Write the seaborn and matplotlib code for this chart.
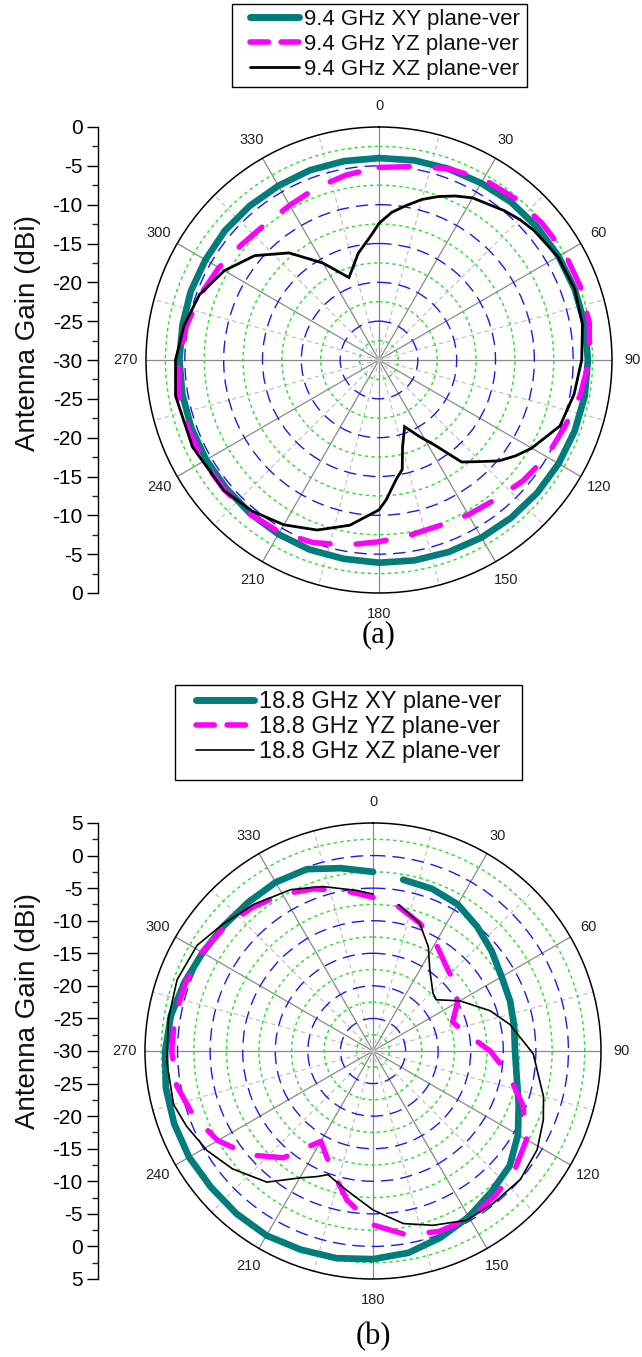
import numpy as np
import pandas as pd
import matplotlib
matplotlib.use("Agg")
import matplotlib.pyplot as plt
from matplotlib.lines import Line2D
from matplotlib.patches import Rectangle
from matplotlib.ticker import FixedLocator, FuncFormatter
import seaborn as sns

# ---------------- 9.4 GHz radiation patterns (gain in dBi vs angle in degrees) ----------------
ang_a = [0, 10, 20, 30, 40, 50, 60, 70, 80, 90, 100, 110, 120, 130, 140, 150, 160, 170, 180,
         190, 200, 210, 220, 230, 240, 250, 260, 270, 280, 290, 300, 310, 320, 330, 340, 350, 360]
xy_a = [-4.0, -3.9, -3.8, -3.7, -3.5, -3.4, -3.3, -3.2, -3.1, -3.1, -3.1, -3.2, -3.3, -3.4, -3.5,
        -3.6, -3.7, -3.8, -3.9, -4.0, -4.0, -4.1, -4.2, -4.3, -4.3, -4.3, -4.3, -4.3, -4.3, -4.2,
        -4.2, -4.1, -4.1, -4.1, -4.0, -4.0, -4.0]
yz_a = [-5.2, -4.7, -3.8, -3.1, -2.8, -2.6, -2.4, -2.4, -2.5, -2.9, -3.7, -4.6, -5.1, -5.8, -6.6,
        -7.0, -7.3, -7.1, -6.6, -5.8, -5.0, -4.4, -4.1, -4.0, -3.9, -3.9, -3.8, -4.2, -4.8, -5.5,
        -6.2, -6.9, -7.2, -7.0, -6.4, -5.8, -5.2]
ang_a_xz = [0, 5, 10, 15, 20, 25, 30, 40, 45, 50, 60, 70, 80, 90, 100, 110, 120, 125, 130, 135,
            141, 147, 152, 159, 165, 168, 172, 177, 180, 185, 190, 200, 210, 220, 230, 245, 260,
            270, 280, 290, 300, 310, 320, 330, 340, 349, 357, 360]
xz_a = [-12.4, -10.9, -9.8, -8.6, -7.6, -6.7, -5.9, -4.9, -4.4, -4.0, -3.4, -3.2, -3.4, -3.9,
        -4.5, -5.2, -7.3, -8.5, -9.8, -11.5, -13.1, -17.0, -18.8, -20.8, -18.3, -15.6, -14.4,
        -12.0, -10.7, -9.7, -8.4, -6.7, -5.5, -4.6, -3.9, -3.5, -3.4, -3.8, -4.5, -5.4, -7.0,
        -9.1, -12.0, -15.6, -18.7, -16.0, -13.7, -12.4]

# ---------------- 18.8 GHz radiation patterns ----------------
ang_b = [10, 20, 30, 40, 50, 60, 70, 80, 90, 100, 110, 120, 130, 140, 150, 160, 170, 180,
         190, 200, 210, 220, 230, 240, 250, 260, 270, 280, 290, 300, 310, 320, 330, 340, 350, 360]
xy_b = [-3.3, -3.5, -4.0, -5.1, -6.2, -7.2, -7.6, -8.0, -8.2, -7.6, -6.2, -4.3, -2.6, -1.75,
        -0.6, 0.45, 1.45, 1.95, 2.3, 2.45, 2.7, 2.6, 2.5, 2.6, 2.5, 2.3, 1.9, 1.5, 0.8, 0.2,
        -0.1, -0.2, -0.1, -0.3, -1.5, -2.5]
yz_b = [-7.5, -9.1, -10.8, -12.7, -13.7, -15.0, -17.0, -15.3, -12.0, -8.8, -5.5, -2.8, -1.6,
        -0.9, -0.3, -0.5, -1.4, -3.3, -6.8, -11.0, -14.0, -8.6, -5.2, -2.5, -0.7, 0.6, 0.9, 0.9,
        0.6, 0.3, -0.3, -1.2, -2.2, -3.5, -5.0, -6.4]
ang_b_xz = [10, 20, 28, 35, 46, 51, 60, 71, 79, 91, 105, 112, 121, 131, 142, 151, 161, 170, 180,
            191, 200, 204, 210, 219, 230, 239, 248, 255, 267, 279, 290, 301, 310, 321, 333, 343,
            354, 360]
xz_b = [-7.2, -9.1, -11.9, -14.8, -17.2, -17.5, -14.6, -11.0, -8.6, -5.4, -2.9, -1.8, -0.6, 0.0,
        -0.2, -0.3, -1.7, -3.1, -5.6, -8.3, -9.8, -8.9, -7.5, -4.1, -1.85, -0.3, 0.86, 1.7, 1.7,
        1.8, 2.0, 1.5, 0.2, -1.0, -2.2, -3.6, -5.2, -5.9]

theta_ticks = list(range(0, 360, 30))
theta_labels = [str(a) for a in theta_ticks]

labels_a = ["9.4 GHz XY plane-ver", "9.4 GHz YZ plane-ver", "9.4 GHz XZ plane-ver"]
labels_b = ["18.8 GHz XY plane-ver", "18.8 GHz YZ plane-ver", "18.8 GHz XZ plane-ver"]

TEAL = "#007c7a"
MAGENTA = "#ff00ff"
BLACK = "#000000"

sns.set_theme(style="white")
plt.rcParams["font.family"] = ["Liberation Sans", "DejaVu Sans"]

W, H = 642, 1357
fig = plt.figure(figsize=(W / 100, H / 100), dpi=100)
fig.patch.set_facecolor("white")


def box(x0, y0, w, h):
    return [x0 / W, 1 - (y0 + h) / H, w / W, h / H]


def frame(angles, gains):
    return pd.DataFrame({"theta": np.deg2rad(angles), "gain": gains})


def panel(cx, cy, R, rmax, series, black_lw, leg_labels, leg_box, leg_anchor, leg_fs,
          leg_hl, leg_ls, ylabel_y, tag, tag_y):
    rmin = -30
    ax = fig.add_axes(box(cx - R, cy - R, 2 * R, 2 * R), projection="polar")
    ax.set_theta_zero_location("N")
    ax.set_theta_direction(-1)
    ax.set_ylim(rmin, rmax)
    major_r = list(np.arange(-25, rmax - 0.1, 5))
    minor_r = list(np.arange(-27.5, rmax, 5))
    ax.set_yticks(major_r)
    ax.set_yticklabels([])
    ax.yaxis.set_minor_locator(FixedLocator(minor_r))
    ax.set_xticks(np.deg2rad(theta_ticks), labels=theta_labels)
    ax.xaxis.set_minor_locator(FixedLocator(np.deg2rad(np.arange(15, 360, 30))))
    ax.set_axisbelow(True)
    ax.grid(True, which="major", axis="y", color="#1c1ce0", linestyle=(0, (9, 5)), linewidth=1.0)
    ax.grid(True, which="minor", axis="y", color="#33e033", linestyle=(0, (2.2, 2.2)), linewidth=1.1)
    ax.grid(True, which="major", axis="x", color="#8a8a8a", linestyle="-", linewidth=0.9)
    ax.grid(True, which="minor", axis="x", color="#bcbcbc", linestyle=(0, (4, 3)), linewidth=0.8)
    ax.tick_params(axis="x", which="major", labelsize=10.5, pad=4, colors="#222222",
                   length=4, width=0.8, direction="out")
    ax.tick_params(axis="y", which="both", length=0)
    ax.spines["polar"].set_linewidth(1.1)
    ax.spines["polar"].set_color("black")
    ax.set_facecolor("white")

    (xy_ang, xy_val), (yz_ang, yz_val), (xz_ang, xz_val) = series
    sns.lineplot(data=frame(xy_ang, xy_val), x="theta", y="gain", ax=ax, sort=False,
                 estimator=None, color=TEAL, linewidth=4.8, solid_capstyle="round",
                 solid_joinstyle="round", legend=False)
    sns.lineplot(data=frame(yz_ang, yz_val), x="theta", y="gain", ax=ax, sort=False,
                 estimator=None, color=MAGENTA, linewidth=3.9, linestyle=(0, (5.6, 4.8)),
                 dash_capstyle="round", legend=False)
    sns.lineplot(data=frame(xz_ang, xz_val), x="theta", y="gain", ax=ax, sort=False,
                 estimator=None, color=BLACK, linewidth=black_lw, solid_joinstyle="miter",
                 legend=False)
    ax.set_xlabel("")
    ax.set_ylabel("")

    # Origin-style gain scale to the left of the polar plot
    span = rmax - rmin
    axl = fig.add_axes(box(98, cy - R, 1, 2 * R))
    axl.set_ylim(-span, span)
    axl.set_xlim(0, 1)
    axl.set_yticks(np.arange(-span, span + 0.1, 5))
    axl.yaxis.set_minor_locator(FixedLocator(np.arange(-span + 2.5, span, 5)))
    axl.yaxis.set_major_formatter(FuncFormatter(lambda v, p: f"{abs(v) + rmin:g}"))
    axl.set_xticks([])
    for s in ("top", "right", "bottom"):
        axl.spines[s].set_visible(False)
    axl.spines["left"].set_color("black")
    axl.spines["left"].set_linewidth(1.0)
    axl.tick_params(axis="y", which="major", direction="out", length=8, width=1.0,
                    labelsize=15, pad=3, colors="black", left=True)
    axl.tick_params(axis="y", which="minor", direction="out", length=4.5, width=1.0, left=True)
    axl.patch.set_alpha(0)

    fig.text(28 / W, 1 - ylabel_y / H, "Antenna Gain (dBi)", rotation=90, ha="center",
             va="center", fontsize=20, color="#111111")

    # legend: plain rectangular frame plus the entries inside it
    bx0, by0, bx1, by1 = leg_box
    fig.patches.append(Rectangle((bx0 / W, 1 - by1 / H), (bx1 - bx0) / W, (by1 - by0) / H,
                                 transform=fig.transFigure, facecolor="white",
                                 edgecolor="black", linewidth=1.0, zorder=1))
    handles = [
        Line2D([], [], color=TEAL, linewidth=5.0, solid_capstyle="round"),
        Line2D([], [], color=MAGENTA, linewidth=4.0, linestyle=(0, (3.3, 2.3)),
               dash_capstyle="round"),
        Line2D([], [], color=BLACK, linewidth=black_lw),
    ]
    leg = fig.legend(handles, leg_labels, loc="upper left",
                     bbox_to_anchor=(leg_anchor[0] / W, 1 - leg_anchor[1] / H), frameon=False,
                     fontsize=leg_fs, handlelength=leg_hl, handletextpad=0.22,
                     labelspacing=leg_ls, borderpad=0, borderaxespad=0)
    for t in leg.get_texts():
        t.set_color("#111111")

    fig.text(cx / W, 1 - tag_y / H, tag, ha="center", va="center", fontsize=22,
             family="Liberation Serif", color="black")


panel(379, 360, 233, 0,
      [(ang_a, xy_a), (ang_a, yz_a), (ang_a_xz, xz_a)], 2.0,
      labels_a, (232, 4, 527, 87), (250, 9), 16, 2.2, 0.18, 333, "(a)", 635)
panel(373, 1051, 228, 5,
      [(ang_b, xy_b), (ang_b, yz_b), (ang_b_xz, xz_b)], 1.2,
      labels_b, (175, 685, 522, 780), (196, 691), 17, 2.45, 0.13, 1011, "(b)", 1337)

fig.savefig("out.png", dpi=100, facecolor="white")
